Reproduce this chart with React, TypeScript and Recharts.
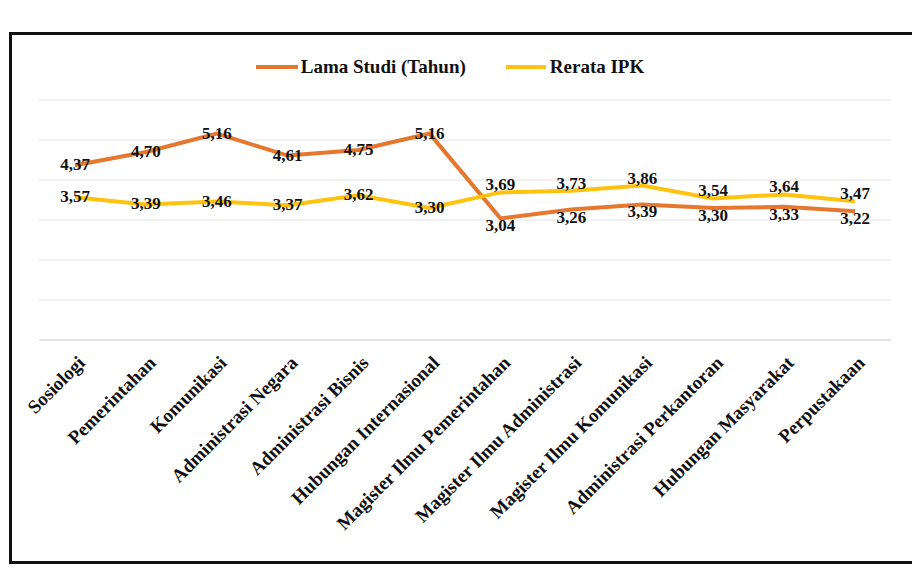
import React from 'react';
import { LineChart, Line, XAxis, YAxis, CartesianGrid, Legend, LabelList } from 'recharts';

const programs = [
  'Sosiologi',
  'Pemerintahan',
  'Komunikasi',
  'Administrasi Negara',
  'Administrasi Bisnis',
  'Hubungan Internasional',
  'Magister Ilmu Pemerintahan',
  'Magister Ilmu Administrasi',
  'Magister Ilmu Komunikasi',
  'Administrasi Perkantoran',
  'Hubungan Masyarakat',
  'Perpustakaan'
];
const lamaStudi = [4.37, 4.7, 5.16, 4.61, 4.75, 5.16, 3.04, 3.26, 3.39, 3.3, 3.33, 3.22];
const rerataIpk = [3.57, 3.39, 3.46, 3.37, 3.62, 3.3, 3.69, 3.73, 3.86, 3.54, 3.64, 3.47];
const yTicks = [0, 1, 2, 3, 4, 5, 6];

const data = programs.map((name, i) => ({ name, lama: lamaStudi[i], ipk: rerataIpk[i] }));

const ORANGE = '#E5772E';
const YELLOW = '#FFC20E';
const FONT = '"Liberation Serif", "Times New Roman", serif';

const fmt = (v: number) => v.toFixed(2).replace('.', ',');

// in the right half the two lines run close, so push the labels apart a little
const makeLabel = (series: 'lama' | 'ipk') => (props: any) => {
  const { x, y, value, index } = props;
  let dy = 5;
  if (index >= 6) dy = series === 'ipk' ? -2 : 13;
  return (
    <text x={x} y={y + dy} textAnchor="middle" fontFamily={FONT} fontWeight="bold" fontSize={17} fill="#111">
      {fmt(value)}
    </text>
  );
};
const LamaLabel = makeLabel('lama');
const IpkLabel = makeLabel('ipk');

const SlantTick = (props: any) => {
  const { x, y, payload } = props;
  return (
    <g transform={`translate(${x + 11},${y + 16})`}>
      <text transform="rotate(-45)" textAnchor="end" fontFamily={FONT} fontWeight="bold" fontSize={19} fill="#111">
        {payload.value}
      </text>
    </g>
  );
};

const LegendBox = () => (
  <div style={{ display: 'flex', justifyContent: 'center', fontFamily: FONT, fontWeight: 'bold', fontSize: 19, color: '#111', paddingRight: 30 }}>
    <span style={{ display: 'flex', alignItems: 'center', marginRight: 40 }}>
      <span style={{ display: 'inline-block', width: 42, height: 4, background: ORANGE, marginRight: 3 }} />
      Lama Studi (Tahun)
    </span>
    <span style={{ display: 'flex', alignItems: 'center' }}>
      <span style={{ display: 'inline-block', width: 40, height: 4, background: YELLOW, marginRight: 4 }} />
      Rerata IPK
    </span>
  </div>
);

export default function App() {
  return (
    <div style={{ position: 'absolute', left: 0, top: 0, width: 912, height: 575, overflow: 'hidden', background: '#fff' }}>
      <div
        style={{
          position: 'absolute',
          left: 9,
          top: 32,
          width: 930,
          height: 526,
          borderLeft: '3px solid #111',
          borderTop: '3px solid #111',
          borderBottom: '3px solid #111'
        }}
      />
      <LineChart width={912} height={575} data={data} margin={{ top: 78, right: 21, left: 39, bottom: 0 }}>
        <CartesianGrid vertical={false} stroke="#e4e4e4" />
        <XAxis
          dataKey="name"
          interval={0}
          height={235}
          padding={{ left: 36, right: 36 }}
          tick={<SlantTick />}
          tickLine={false}
          axisLine={{ stroke: '#d8d8d8' }}
        />
        <YAxis hide domain={[0, 6]} ticks={yTicks} />
        <Legend verticalAlign="top" content={<LegendBox />} wrapperStyle={{ top: 56 }} />
        <Line type="linear" dataKey="lama" stroke={ORANGE} strokeWidth={4} dot={false} isAnimationActive={false}>
          <LabelList dataKey="lama" content={<LamaLabel />} />
        </Line>
        <Line type="linear" dataKey="ipk" stroke={YELLOW} strokeWidth={4} dot={false} isAnimationActive={false}>
          <LabelList dataKey="ipk" content={<IpkLabel />} />
        </Line>
      </LineChart>
    </div>
  );
}
